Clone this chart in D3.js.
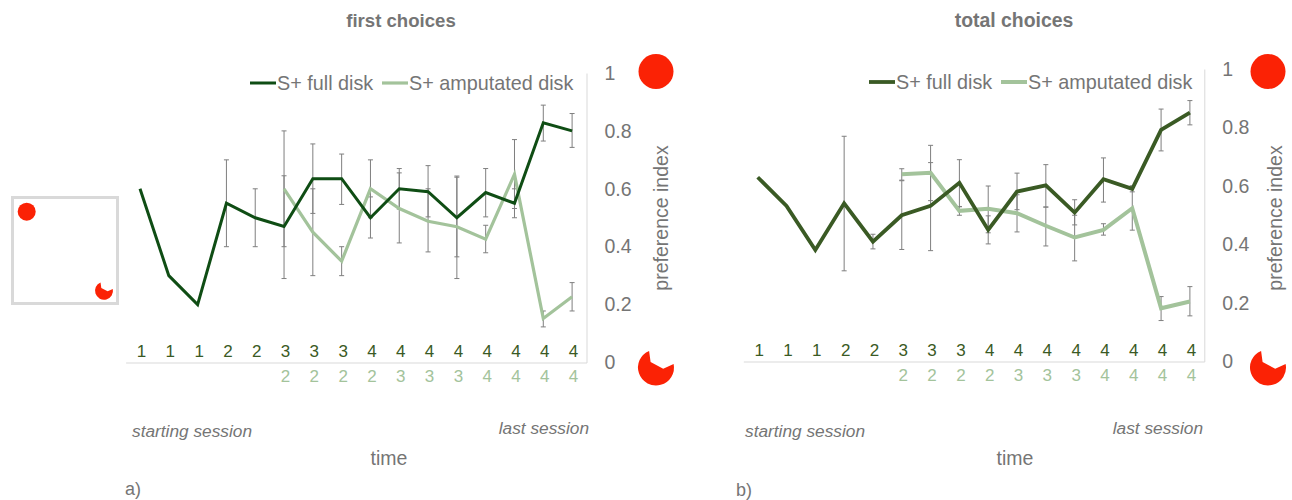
<!DOCTYPE html>
<html>
<head>
<meta charset="utf-8">
<script src="https://cdn.jsdelivr.net/npm/d3@7"></script>
<style>
html, body { margin: 0; padding: 0; background: #fff; }
svg { display: block; font-family: "Liberation Sans", sans-serif; }
</style>
</head>
<body>
<div id="chart"></div>
<script>
// session number shown under each time step
var sessionFull = [1, 1, 1, 2, 2, 3, 3, 3, 4, 4, 4, 4, 4, 4, 4, 4];
var sessionAmp = ["", "", "", "", "", 2, 2, 2, 2, 3, 3, 3, 4, 4, 4, 4];
var yTicks = [0, 0.2, 0.4, 0.6, 0.8, 1];

// a) first choices
var firstFull = [0.60, 0.30, 0.20, 0.55, 0.50, 0.47, 0.635, 0.635, 0.50, 0.60, 0.59, 0.50, 0.587, 0.55, 0.828, 0.80];
var firstFullHi = [null, null, null, 0.70, 0.60, 0.645, 0.755, 0.72, 0.572, 0.67, 0.68, 0.64, 0.67, 0.60, 0.889, 0.86];
var firstFullLo = [null, null, null, 0.40, 0.40, 0.29, 0.515, 0.546, 0.43, 0.53, 0.503, 0.365, 0.503, 0.50, 0.765, 0.743];
var firstAmp = [null, null, null, null, null, 0.60, 0.45, 0.35, 0.60, 0.532, 0.488, 0.469, 0.426, 0.65, 0.152, 0.227];
var firstAmpHi = [null, null, null, null, null, 0.80, 0.60, 0.40, 0.70, 0.655, 0.60, 0.644, 0.474, 0.77, 0.178, 0.276];
var firstAmpLo = [null, null, null, null, null, 0.40, 0.30, 0.30, 0.50, 0.413, 0.382, 0.29, 0.379, 0.532, 0.123, 0.178];

// b) total choices
var totalFull = [0.63, 0.532, 0.381, 0.541, 0.41, 0.50, 0.532, 0.611, 0.45, 0.581, 0.602, 0.509, 0.623, 0.59, 0.792, 0.851];
var totalFullHi = [null, null, null, 0.77, 0.435, 0.618, 0.68, 0.69, 0.498, 0.644, 0.673, 0.553, 0.696, 0.60, 0.863, 0.892];
var totalFullLo = [null, null, null, 0.31, 0.385, 0.383, 0.379, 0.529, 0.402, 0.519, 0.528, 0.467, 0.545, 0.58, 0.72, 0.809];
var totalAmp = [null, null, null, null, null, 0.64, 0.645, 0.515, 0.522, 0.507, 0.464, 0.424, 0.45, 0.524, 0.182, 0.205];
var totalAmpHi = [null, null, null, null, null, 0.659, 0.739, 0.53, 0.60, 0.57, 0.528, 0.50, 0.471, 0.60, 0.222, 0.256];
var totalAmpLo = [null, null, null, null, null, 0.62, 0.55, 0.50, 0.44, 0.443, 0.395, 0.344, 0.432, 0.449, 0.14, 0.156];

var grey = "#757575";
var red = "#fb2205";
var sessionDark = "#3a5a24";

var svg = d3.select("#chart").append("svg")
    .attr("width", 1292)
    .attr("height", 500);

function drawDisk(cx, cy, r, amputated) {
    if (!amputated) {
        svg.append("circle").attr("cx", cx).attr("cy", cy).attr("r", r).attr("fill", red);
        return;
    }
    // disk with a bite taken out of the upper right
    var p = d3.path();
    var a0 = Math.atan2(-0.89, -0.37);
    var a1 = Math.atan2(-0.2, 0.98);
    p.moveTo(cx + r * Math.cos(a0), cy + r * Math.sin(a0));
    p.arc(cx, cy, r, a0, a1, true);
    p.lineTo(cx + 0.4 * r, cy + 0.07 * r);
    p.lineTo(cx - 0.3 * r, cy - 0.3 * r);
    p.closePath();
    svg.append("path").attr("d", p.toString()).attr("fill", red);
}

function addText(str, x, y, size, opts) {
    opts = opts || {};
    return svg.append("text")
        .attr("x", x)
        .attr("y", y)
        .attr("font-size", size)
        .attr("fill", grey)
        .attr("text-anchor", opts.anchor || "start")
        .attr("font-weight", opts.weight || "normal")
        .attr("font-style", opts.style || "normal")
        .text(str);
}

function drawPanel(cfg) {
    var x = d3.scaleBand()
        .domain(d3.range(sessionFull.length))
        .range([cfg.left, cfg.right]);
    var y = d3.scaleLinear()
        .domain([0, 1])
        .range([cfg.bottom, cfg.top]);
    var cx = function (i) { return x(i) + x.bandwidth() / 2; };

    var g = svg.append("g");

    // right hand axis with the preference index
    var yAxis = g.append("g")
        .attr("transform", "translate(" + cfg.right + ",0)")
        .call(d3.axisRight(y).tickValues(yTicks).tickFormat(d3.format("~g")).tickSize(0).tickPadding(18));
    yAxis.select(".domain").attr("stroke", "#d9d9d9").attr("stroke-width", 1);
    yAxis.selectAll("text").attr("font-size", 19.5).attr("font-family", "Liberation Sans").attr("fill", grey);

    // session rows sit on both sides of the baseline
    var topRow = g.append("g")
        .attr("transform", "translate(1.5," + cfg.bottom + ")")
        .call(d3.axisTop(x).tickFormat(function (i) { return sessionFull[i]; }).tickSize(0).tickPadding(5.5));
    topRow.select(".domain").remove();
    topRow.selectAll("text").attr("font-size", 17).attr("font-family", "Liberation Sans").attr("fill", sessionDark);

    var bottomRow = g.append("g")
        .attr("transform", "translate(0," + cfg.bottom + ")")
        .call(d3.axisBottom(x).tickFormat(function (i) { return sessionAmp[i]; }).tickSize(0).tickPadding(7));
    bottomRow.select(".domain").attr("stroke", "#d9d9d9").attr("stroke-width", 1);
    bottomRow.selectAll("text").attr("font-size", 17).attr("font-family", "Liberation Sans")
        .attr("fill", cfg.ampColor).attr("transform", "translate(1.5,0)");

    // error bars go under the lines
    [[cfg.fullHi, cfg.fullLo], [cfg.ampHi, cfg.ampLo]].forEach(function (pair) {
        var hi = pair[0], lo = pair[1];
        var idx = d3.range(hi.length).filter(function (i) { return hi[i] !== null; });
        var bars = g.append("g").attr("stroke", "#7f7f7f").attr("stroke-width", 1);
        bars.selectAll(".stem").data(idx).enter().append("line")
            .attr("class", "stem")
            .attr("x1", cx).attr("x2", cx)
            .attr("y1", function (i) { return y(hi[i]); })
            .attr("y2", function (i) { return y(lo[i]); });
        bars.selectAll(".capHi").data(idx).enter().append("line")
            .attr("class", "capHi")
            .attr("x1", function (i) { return cx(i) - 2.5; })
            .attr("x2", function (i) { return cx(i) + 2.5; })
            .attr("y1", function (i) { return y(hi[i]); })
            .attr("y2", function (i) { return y(hi[i]); });
        bars.selectAll(".capLo").data(idx).enter().append("line")
            .attr("class", "capLo")
            .attr("x1", function (i) { return cx(i) - 2.5; })
            .attr("x2", function (i) { return cx(i) + 2.5; })
            .attr("y1", function (i) { return y(lo[i]); })
            .attr("y2", function (i) { return y(lo[i]); });
    });

    var line = d3.line()
        .defined(function (d) { return d !== null; })
        .x(function (d, i) { return cx(i); })
        .y(function (d) { return y(d); });

    g.append("path")
        .attr("d", line(cfg.amp))
        .attr("fill", "none")
        .attr("stroke", cfg.ampColor)
        .attr("stroke-width", cfg.ampWidth);
    g.append("path")
        .attr("d", line(cfg.full))
        .attr("fill", "none")
        .attr("stroke", cfg.fullColor)
        .attr("stroke-width", cfg.fullWidth);

    // legend
    var lx = cfg.legendX, ly = cfg.legendY;
    g.append("line").attr("x1", lx).attr("x2", lx + 26).attr("y1", ly).attr("y2", ly)
        .attr("stroke", cfg.fullColor).attr("stroke-width", cfg.fullWidth);
    addText("S+ full disk", lx + 27, ly + 7, 19.8);
    g.append("line").attr("x1", lx + 132).attr("x2", lx + 158).attr("y1", ly).attr("y2", ly)
        .attr("stroke", cfg.ampColor).attr("stroke-width", cfg.ampWidth);
    addText("S+ amputated disk", lx + 159, ly + 7, 19.8);

    // titles and notes
    addText(cfg.title, cfg.titleX, 27, cfg.titleSize, { anchor: "middle", weight: "bold" });
    addText("preference index", 0, 0, 19.5, { anchor: "middle" })
        .attr("transform", "translate(" + cfg.yLabelX + ",218) rotate(-90)");
    addText("starting session", cfg.noteLeft, 437, 17.3, { style: "italic" });
    addText("last session", cfg.noteRight, 434, 17.3, { anchor: "end", style: "italic" });
    addText("time", cfg.timeX, 465, 19.5, { anchor: "middle" });
    addText(cfg.tag, cfg.tagX, cfg.tagY, 18);

    drawDisk(cfg.diskX, 71.5, 17.5, false);
    drawDisk(cfg.diskX, 367.5, 18, true);
}

drawPanel({
    title: "first choices", titleX: 401, titleSize: 18.6, tag: "a)", tagX: 125, tagY: 495,
    left: 125.6, right: 586.5, top: 73, bottom: 362.5,
    full: firstFull, fullHi: firstFullHi, fullLo: firstFullLo,
    amp: firstAmp, ampHi: firstAmpHi, ampLo: firstAmpLo,
    fullColor: "#0f4d14", ampColor: "#a3c39b", fullWidth: 3, ampWidth: 3.2,
    noteLeft: 132, noteRight: 589,
    legendX: 250, legendY: 83, yLabelX: 668, timeX: 389, diskX: 656
});

drawPanel({
    title: "total choices", titleX: 1014, titleSize: 19.4, tag: "b)", tagX: 736, tagY: 496,
    left: 743.3, right: 1204.3, top: 69, bottom: 361.5,
    full: totalFull, fullHi: totalFullHi, fullLo: totalFullLo,
    amp: totalAmp, ampHi: totalAmpHi, ampLo: totalAmpLo,
    fullColor: "#3a5a24", ampColor: "#a3c39b", fullWidth: 3.8, ampWidth: 4,
    noteLeft: 745, noteRight: 1203,
    legendX: 869, legendY: 82, yLabelX: 1282, timeX: 1015, diskX: 1268
});

// arena sketch left of panel a
svg.append("rect")
    .attr("x", 12.5).attr("y", 197.5)
    .attr("width", 105).attr("height", 106)
    .attr("fill", "none")
    .attr("stroke", "#d9d9d9")
    .attr("stroke-width", 3);
drawDisk(26.7, 211.7, 9, false);
drawDisk(104, 290.7, 9, true);
</script>
</body>
</html>
